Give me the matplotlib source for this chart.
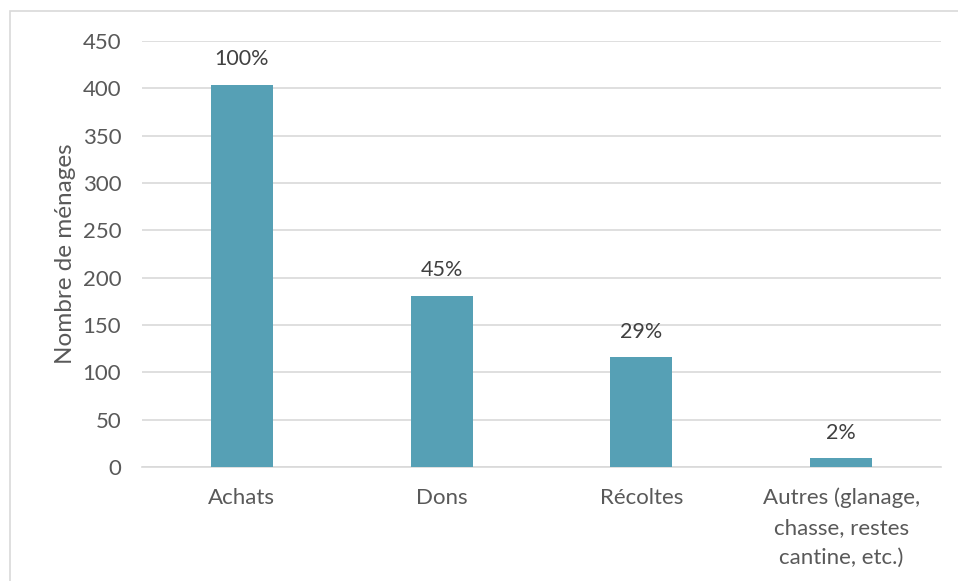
import matplotlib.pyplot as plt
from matplotlib.patches import Rectangle

# data
categories = ['Achats', 'Dons', 'Récoltes', 'Autres (glanage,\nchasse, restes\ncantine, etc.)']
menages = [404, 181, 116, 9]
pct_labels = ['100%', '45%', '29%', '2%']
y_ticks = [0, 50, 100, 150, 200, 250, 300, 350, 400, 450]

plt.rcParams['font.family'] = ['Lato', 'DejaVu Sans']

fig = plt.figure(figsize=(9.58, 5.81), dpi=100)
ax = fig.add_axes([142 / 958, 1 - 467 / 581, (941 - 142) / 958, (467 - 41) / 581])

x = list(range(len(categories)))
bars = ax.bar(x, menages, width=0.31, color='#56A0B5', zorder=3)

for b, lab in zip(bars, pct_labels):
    ax.annotate(lab, (b.get_x() + b.get_width() / 2, b.get_height()),
                xytext=(0, 11), textcoords='offset points',
                ha='center', va='bottom', fontsize=15.5, color='#404040')

ax.set_xlim(-0.5, 3.5)
ax.set_ylim(0, 450)
ax.set_yticks(y_ticks)
ax.set_xticks(x)
ax.set_xticklabels(categories, linespacing=1.6)
ax.yaxis.grid(True, color='#D9D9D9', linewidth=1.2, zorder=0)
ax.tick_params(axis='both', length=0, labelsize=16, colors='#595959')
ax.tick_params(axis='y', pad=15)
ax.tick_params(axis='x', pad=15)
for s in ['top', 'right', 'left']:
    ax.spines[s].set_visible(False)
ax.spines['bottom'].set_color('#D9D9D9')
ax.spines['bottom'].set_linewidth(1.2)

ax.set_ylabel('Nombre de ménages', fontsize=17.5, color='#595959')
ax.yaxis.set_label_coords(-0.0825, 0.5)

# light grey chart frame
fig.patches.append(Rectangle((10 / 958, -0.05), 1.0, 1 - 11 / 581 + 0.05,
                             transform=fig.transFigure, fill=False,
                             edgecolor='#D9D9D9', linewidth=1.2))

fig.savefig('out.png', dpi=100)
